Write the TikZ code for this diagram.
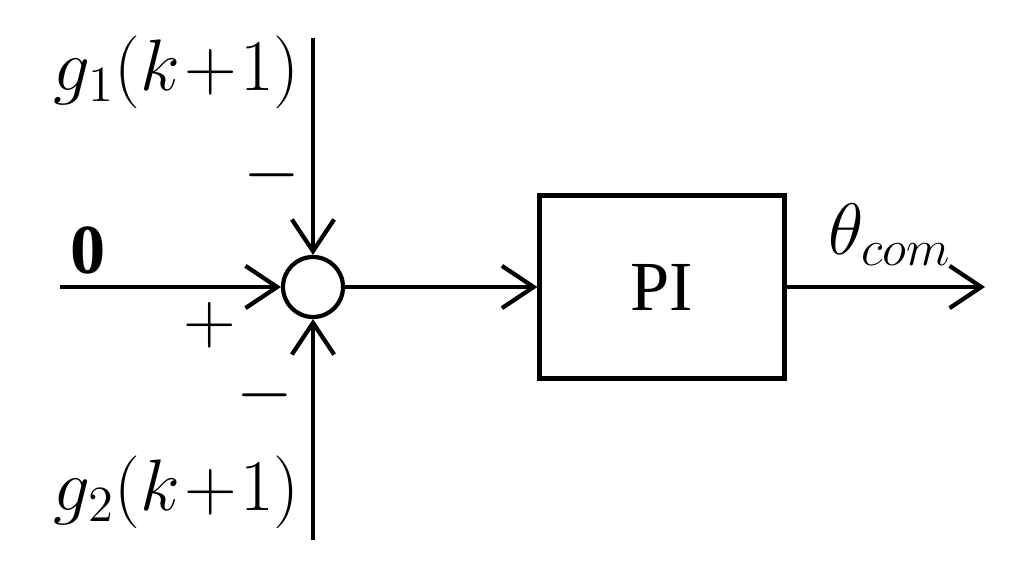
\documentclass[tikz,border=0pt]{standalone}
\usepackage{fontspec}
\setmainfont{Liberation Serif}
\usetikzlibrary{arrows.meta}
\begin{document}
\begin{tikzpicture}[x=0.01cm,y=-0.01cm,
  line width=1.2pt,
  arr/.style={-{Straight Barb[length=9pt,width=12pt,line width=1.2pt]}},
  lbl/.style={font=\fontsize{20}{24}\selectfont, inner sep=0pt}]
\useasboundingbox (0,0) rectangle (1013,561);
\node[circle,draw,minimum size=60*0.01cm,inner sep=0pt] (s) at (313,287) {};
\node[draw,minimum width=245*0.01cm,minimum height=183*0.01cm] (pi) at (662,287) {};
\node[lbl] at (662,287) {PI};
\coordinate (top) at (313,38);
\coordinate (bot) at (313,540);
\coordinate (in) at (60,287);
\coordinate (out) at (985,287);
\draw[arr] (top) -- (s.north);
\draw[arr] (bot) -- (s.south);
\draw[arr] (in) -- (s.west);
\draw[arr] (s.east) -- (pi.west);
\draw[arr] (pi.east) -- (out);
\node[lbl,anchor=east] at (302,72) {$g_1(k\!+\!1)$};
\node[lbl,anchor=east] at (302,492) {$g_2(k\!+\!1)$};
\node[lbl] at (272,175) {$-$};
\node[lbl] at (265,395) {$-$};
\node[lbl] at (210,325) {$+$};
\node[lbl] at (88,250) {$\mathbf{0}$};
\node[lbl] at (890,235) {$\theta_{com}$};
\end{tikzpicture}
\end{document}
